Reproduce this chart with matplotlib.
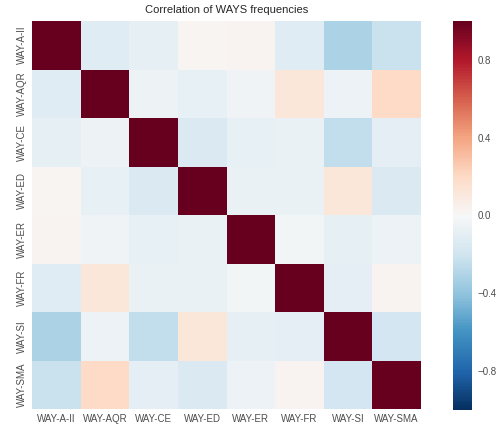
import matplotlib.pyplot as plt
import numpy as np
import seaborn as sns

labels = ["WAY-A-II", "WAY-AQR", "WAY-CE", "WAY-ED", "WAY-ER", "WAY-FR", "WAY-SI", "WAY-SMA"]

# correlation rows
row_aii = [1.00, -0.12, -0.09, 0.02, 0.03, -0.12, -0.32, -0.22]
row_aqr = [-0.12, 1.00, -0.05, -0.08, -0.04, 0.12, -0.06, 0.20]
row_ce = [-0.09, -0.05, 1.00, -0.15, -0.08, -0.07, -0.25, -0.10]
row_ed = [0.02, -0.08, -0.15, 1.00, -0.07, -0.07, 0.12, -0.15]
row_er = [0.03, -0.04, -0.08, -0.07, 1.00, -0.03, -0.09, -0.06]
row_fr = [-0.12, 0.12, -0.07, -0.07, -0.03, 1.00, -0.10, 0.03]
row_si = [-0.32, -0.06, -0.25, 0.12, -0.09, -0.10, 1.00, -0.18]
row_sma = [-0.22, 0.20, -0.10, -0.15, -0.06, 0.03, -0.18, 1.00]

corr = np.array([row_aii, row_aqr, row_ce, row_ed, row_er, row_fr, row_si, row_sma])

sns.set_style("white")
plt.rcParams["font.family"] = ["Liberation Sans", "DejaVu Sans"]

fig = plt.figure(figsize=(4.96, 4.24), dpi=100)
ax = fig.add_axes([32 / 496, 15 / 424, 389 / 496, 388 / 424])
cax = fig.add_axes([453 / 496, 14 / 424, 19 / 496, 389 / 424])

sns.heatmap(corr, vmin=-1, vmax=1, cmap="RdBu_r", ax=ax, cbar_ax=cax,
            xticklabels=labels, yticklabels=labels)

ax.set_title("Correlation of WAYS frequencies", fontsize=8, color=".15")
ax.tick_params(axis="both", length=0, labelsize=7, colors=".3")
ax.set_yticklabels(labels, rotation=90, va="center")
ax.set_xticklabels(labels, rotation=0)

cax.set_yticks([-0.8, -0.4, 0.0, 0.4, 0.8])
cax.tick_params(length=0, labelsize=7, colors=".3", pad=4)
for s in cax.spines.values():
    s.set_visible(False)

fig.savefig("out.png")
